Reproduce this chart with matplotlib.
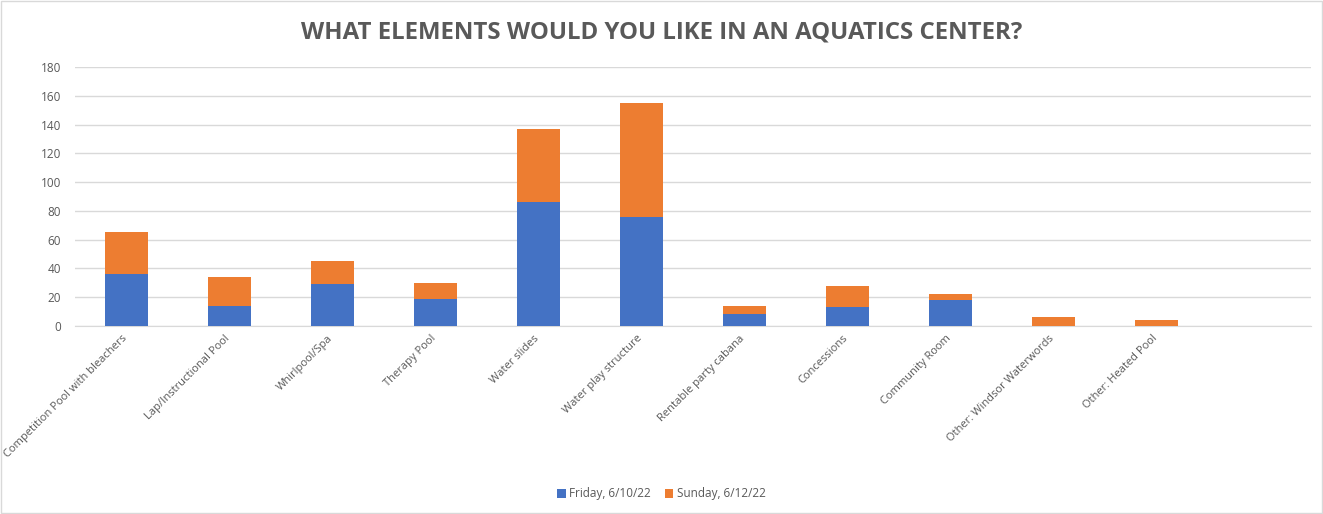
import matplotlib
matplotlib.use("Agg")
import matplotlib.pyplot as plt
import matplotlib.transforms as mtransforms
import numpy as np

# --- Data ---
categories = [
    "Competition Pool with bleachers",
    "Lap/Instructional Pool",
    "Whirlpool/Spa",
    "Therapy Pool",
    "Water slides",
    "Water play structure",
    "Rentable party cabana",
    "Concessions",
    "Community Room",
    "Other: Windsor Waterwords",
    "Other: Heated Pool",
    "",
]
friday = [36, 14, 29, 19, 86, 76, 8, 13, 18, 0, 0, 0]
sunday = [29, 20, 16, 11, 51, 79, 6, 15, 4, 6, 4, 0]
series_names = ["Friday, 6/10/22", "Sunday, 6/12/22"]
title = "WHAT ELEMENTS WOULD YOU LIKE IN AN AQUATICS CENTER?"

# --- Style ---
BLUE = "#4472C4"
ORANGE = "#ED7D31"
TXT = "#595959"
GRID = "#D9D9D9"
plt.rcParams["font.family"] = ["Open Sans", "DejaVu Sans"]

fig = plt.figure(figsize=(13.23, 5.14), dpi=100)
ax = fig.add_axes([75 / 1323, 1 - 326 / 514, (1311 - 75) / 1323, (326 - 67) / 514])

x = np.arange(len(categories))
w = 0.41
ax.bar(x, friday, w, color=BLUE, label=series_names[0], zorder=3)
ax.bar(x, sunday, w, bottom=friday, color=ORANGE, label=series_names[1], zorder=3)

ax.set_xlim(-0.5, len(categories) - 0.5)
ax.set_ylim(0, 180)
ax.set_yticks(range(0, 181, 20))
ax.grid(axis="y", color=GRID, linewidth=1, zorder=0)
for s in ["top", "right", "left"]:
    ax.spines[s].set_visible(False)
ax.spines["bottom"].set_color(GRID)
ax.tick_params(axis="both", length=0, colors=TXT, labelsize=8.5)
ax.tick_params(axis="y", pad=10)
ax.tick_params(axis="x", pad=5)
ax.set_xticks(x)
ax.set_xticklabels(categories, rotation=45, ha="right", rotation_mode="anchor", fontsize=8)
# nudge the slanted labels a little left, as in the original
shift = mtransforms.ScaledTranslation(-5 / 100, 0, fig.dpi_scale_trans)
for lab in ax.get_xticklabels():
    lab.set_transform(lab.get_transform() + shift)

fig.text(0.5, 1 - 32 / 514, title, ha="center", va="center",
         fontsize=17.3, fontweight="bold", color=TXT)

fig.legend(loc="center", bbox_to_anchor=(0.5, 1 - 494 / 514), ncol=2, frameon=False,
           fontsize=8.5, labelcolor=TXT, handlelength=0.7, handleheight=0.7,
           handletextpad=0.3, columnspacing=1.2)

# border round the chart
fig.patches.append(plt.Rectangle((0.001, 0.001), 0.998, 0.998, transform=fig.transFigure,
                                 fill=False, edgecolor=GRID, linewidth=1))

fig.savefig("out.png", dpi=100)
